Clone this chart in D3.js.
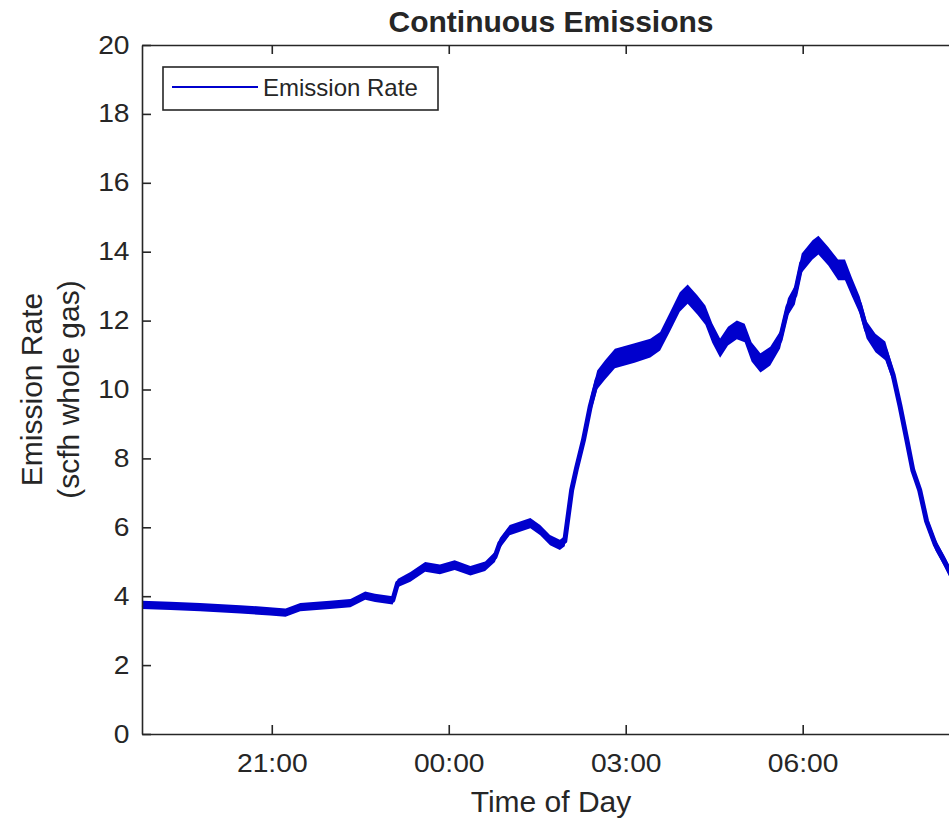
<!DOCTYPE html>
<html>
<head>
<meta charset="utf-8">
<script src="https://cdn.jsdelivr.net/npm/d3@7"></script>
<style>
  body { margin: 0; background: #fff; }
  svg { display: block; font-family: "Liberation Sans", Arial, sans-serif; }
</style>
</head>
<body>
<svg id="chart" width="949" height="822"></svg>
<script>
// time of day for each reading (after midnight = next day)
const times = [
  "18:48", "19:17", "19:47", "20:28", "20:58", "21:14", "21:29", "21:59", "22:20", "22:35",
  "22:45", "23:03", "23:08", "23:21", "23:36", "23:51", "00:06", "00:22", "00:37", "00:47",
  "00:52", "01:02", "01:23", "01:33", "01:43", "01:53", "01:58", "02:05", "02:10", "02:17",
  "02:24", "02:31", "02:39", "02:49", "03:09", "03:25", "03:35", "03:45", "03:55", "04:03",
  "04:13", "04:21", "04:28", "04:36", "04:44", "04:53", "05:01", "05:08", "05:17", "05:27",
  "05:37", "05:45", "05:52", "05:59", "06:10", "06:16", "06:26", "06:36", "06:43", "06:50",
  "06:58", "07:05", "07:14", "07:24", "07:32", "07:39", "07:46", "07:52", "07:59", "08:06",
  "08:15", "08:24", "08:35"
]

// emission rate (scfh whole gas)
const rate = [
  3.75, 3.72, 3.68, 3.62, 3.56, 3.52, 3.68, 3.75, 3.80, 4.02,
  3.95, 3.88, 4.38, 4.56, 4.85, 4.78, 4.90, 4.74, 4.87, 5.14,
  5.54, 5.92, 6.12, 5.92, 5.63, 5.49, 5.60, 7.08, 7.72, 8.53,
  9.52, 10.28, 10.57, 10.90, 11.06, 11.20, 11.40, 11.96, 12.54, 12.77,
  12.45, 12.16, 11.64, 11.20, 11.55, 11.73, 11.64, 11.09, 10.77, 10.97,
  11.44, 12.40, 12.74, 13.67, 14.05, 14.19, 13.87, 13.47, 13.47, 12.98,
  12.45, 11.73, 11.35, 11.12, 10.42, 9.52, 8.53, 7.66, 7.08, 6.18,
  5.49, 5.02, 4.40
]

// half width of the noisy band around the trace
const spread = [
  0.12, 0.12, 0.12, 0.12, 0.12, 0.12, 0.12, 0.12, 0.12, 0.12,
  0.12, 0.12, 0.12, 0.14, 0.14, 0.14, 0.14, 0.14, 0.14, 0.15,
  0.15, 0.15, 0.15, 0.15, 0.15, 0.15, 0.15, 0.2, 0.2, 0.22,
  0.24, 0.27, 0.28, 0.28, 0.28, 0.27, 0.27, 0.28, 0.28, 0.28,
  0.28, 0.28, 0.28, 0.28, 0.27, 0.27, 0.27, 0.28, 0.28, 0.27,
  0.25, 0.25, 0.27, 0.28, 0.28, 0.27, 0.27, 0.3, 0.3, 0.27,
  0.25, 0.25, 0.27, 0.27, 0.2, 0.18, 0.16, 0.16, 0.16, 0.16,
  0.16, 0.16, 0.16
]

const yTicks = [0, 2, 4, 6, 8, 10, 12, 14, 16, 18, 20]

const toDate = s => {
  const [h, m] = s.split(":").map(Number)
  return new Date(2000, 0, h < 12 ? 2 : 1, h, m)
}
const data = times.map((t, i) => ({ t: toDate(t), v: rate[i], s: spread[i] }))

const svg = d3.select("#chart")
const ink = "#262626"
const blue = "#0000cd"

const plotLeft = 142, plotRight = 960, plotTop = 45, plotBottom = 734

const x = d3.scaleTime()
  .domain([new Date(2000, 0, 1, 18, 48), new Date(2000, 0, 2, 8, 40)])
  .range([plotLeft, plotRight])

const y = d3.scaleLinear()
  .domain([0, 20])
  .range([plotBottom, plotTop])

// trace
const plot = svg.append("g")

plot.append("path")
  .datum(data)
  .attr("fill", blue)
  .attr("d", d3.area()
    .x(d => x(d.t))
    .y0(d => y(d.v - d.s))
    .y1(d => y(d.v + d.s)))

plot.append("path")
  .datum(data)
  .attr("fill", "none")
  .attr("stroke", blue)
  .attr("stroke-width", 5)
  .attr("stroke-linejoin", "round")
  .attr("d", d3.line().x(d => x(d.t)).y(d => y(d.v)))

// axes, MATLAB style box with inward ticks
const fmt = d3.timeFormat("%H:%M")
const every3 = d3.timeHour.every(3)

svg.append("g")
  .attr("transform", `translate(0,${plotBottom})`)
  .call(d3.axisBottom(x).ticks(every3).tickFormat(fmt).tickSize(-9).tickSizeOuter(0).tickPadding(20))

svg.append("g")
  .attr("transform", `translate(0,${plotTop})`)
  .call(d3.axisTop(x).ticks(every3).tickFormat("").tickSize(-9).tickSizeOuter(0))

svg.append("g")
  .attr("transform", `translate(${plotLeft},0)`)
  .call(d3.axisLeft(y).tickValues(yTicks).tickSize(-9).tickSizeOuter(0).tickPadding(11))

svg.selectAll(".domain, .tick line")
  .attr("stroke", ink)
  .attr("stroke-width", 1.6)

// the source figure is a little wider than tall, stretch tick labels to match
svg.selectAll(".tick text")
  .attr("fill", ink)
  .attr("font-size", 25)
  .attr("font-family", "Liberation Sans, Arial, sans-serif")
  .attr("transform", "scale(1.13,1)")

// labels
svg.append("text")
  .text("Continuous Emissions")
  .attr("x", (plotLeft + plotRight) / 2)
  .attr("y", 32)
  .attr("text-anchor", "middle")
  .attr("font-size", 30)
  .attr("font-weight", "bold")
  .attr("fill", ink)

svg.append("text")
  .text("Time of Day")
  .attr("x", (plotLeft + plotRight) / 2)
  .attr("y", 812)
  .attr("text-anchor", "middle")
  .attr("font-size", 30)
  .attr("fill", ink)

const yLabel = svg.append("g")
  .attr("transform", `translate(0,${(plotTop + plotBottom) / 2}) rotate(-90)`)

yLabel.append("text")
  .text("Emission Rate")
  .attr("y", 42)
  .attr("text-anchor", "middle")
  .attr("font-size", 30)
  .attr("fill", ink)

yLabel.append("text")
  .text("(scfh whole gas)")
  .attr("y", 79)
  .attr("text-anchor", "middle")
  .attr("font-size", 30)
  .attr("fill", ink)

// legend
const legend = svg.append("g")
  .attr("transform", "translate(163,67)")

legend.append("rect")
  .attr("width", 275)
  .attr("height", 43)
  .attr("fill", "#fff")
  .attr("stroke", ink)
  .attr("stroke-width", 1.6)

legend.append("line")
  .attr("x1", 9)
  .attr("x2", 95)
  .attr("y1", 20)
  .attr("y2", 20)
  .attr("stroke", blue)
  .attr("stroke-width", 2)

legend.append("text")
  .text("Emission Rate")
  .attr("x", 100)
  .attr("y", 29)
  .attr("font-size", 24)
  .attr("fill", ink)
</script>
</body>
</html>
